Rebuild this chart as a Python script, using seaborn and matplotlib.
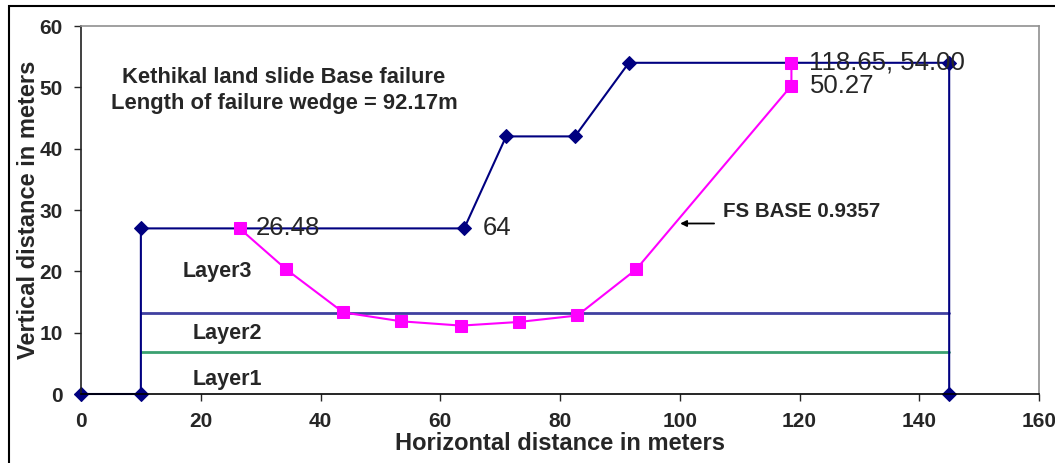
import matplotlib
matplotlib.use('Agg')
import matplotlib.pyplot as plt
import matplotlib.patches as patches
import seaborn as sns
import numpy as np

# ground profile (navy diamonds)
ground_x = [0, 10, 10, 64, 71, 82.5, 91.5, 145, 145]
ground_y = [0, 0, 27, 27, 42, 42, 54, 54, 0]

# failure surface (magenta squares)
slip_x = [26.48, 34.3, 43.8, 53.5, 63.5, 73.2, 82.9, 92.7, 118.65, 118.65]
slip_y = [27.0, 20.3, 13.3, 11.85, 11.15, 11.75, 12.8, 20.3, 50.27, 54.0]

# layer boundaries
layer_x = [10, 145]
layer3_base = [13.2, 13.2]
layer2_base = [6.8, 6.8]

layer_names = ['Layer3', 'Layer2', 'Layer1']
layer_label_x = [22.7, 24.4, 24.4]
layer_label_y = [20.0, 9.9, 2.3]

x_ticks = np.arange(0, 161, 20)
y_ticks = np.arange(0, 61, 10)

sns.set_style('white')
plt.rcParams['font.family'] = ['Liberation Sans', 'DejaVu Sans']

fig = plt.figure(figsize=(10.55, 4.63), dpi=100)
ax = fig.add_axes([81 / 1055, 1 - 394 / 463, (1039 - 81) / 1055, (394 - 26) / 463])

# layer lines
sns.lineplot(x=layer_x, y=layer3_base, color='#4040a0', linewidth=2, ax=ax,
             estimator=None, sort=False)
sns.lineplot(x=layer_x, y=layer2_base, color='#3aa070', linewidth=2, ax=ax,
             estimator=None, sort=False)

# ground profile
sns.lineplot(x=ground_x, y=ground_y, color='#000080', linewidth=1.5, marker='D',
             markersize=7, markeredgecolor='#000080', ax=ax, estimator=None, sort=False)

# slip surface
sns.lineplot(x=slip_x, y=slip_y, color='#ff00ff', linewidth=1.5, marker='s',
             markersize=8, markeredgecolor='#ff00ff', ax=ax, estimator=None, sort=False)

for ln in ax.lines:
    ln.set_clip_on(False)

# data labels
lab_kw = dict(textcoords='offset points', va='center', ha='left', fontsize=18.5)
ax.annotate('26.48', (slip_x[0], slip_y[0]), xytext=(12, 0), **lab_kw)
ax.annotate('64', (ground_x[3], ground_y[3]), xytext=(13, 0), **lab_kw)
ax.annotate('118.65, 54.00', (slip_x[-1], slip_y[-1]), xytext=(13, 0), **lab_kw)
ax.annotate('50.27', (slip_x[-2], slip_y[-2]), xytext=(13, 0), **lab_kw)

# title block
ax.text(33.9, 49.5, 'Kethikal land slide Base failure\nLength of failure wedge = 92.17m',
        ha='center', va='center', fontsize=15.8, fontweight='bold', linespacing=1.35)

for name, lx, ly in zip(layer_names, layer_label_x, layer_label_y):
    ax.text(lx, ly, name, ha='center', va='center', fontsize=15.5, fontweight='bold')

# FS annotation
ax.annotate('', xy=(99.6, 27.8), xytext=(106.2, 27.8),
            arrowprops=dict(arrowstyle='-|>', color='black', lw=1.3, mutation_scale=9))
ax.text(107.2, 29.8, 'FS BASE 0.9357', ha='left', va='center', fontsize=14.8,
        fontweight='bold')

ax.set_xlim(0, 160)
ax.set_ylim(0, 60)
ax.set_xticks(x_ticks)
ax.set_yticks(y_ticks)
ax.tick_params(axis='both', direction='out', length=5, width=1, labelsize=15,
               bottom=True, left=True)
ax.tick_params(axis='x', pad=8)
ax.tick_params(axis='y', pad=8)
for lbl in ax.get_xticklabels() + ax.get_yticklabels():
    lbl.set_fontweight('bold')

ax.set_xlabel('Horizontal distance in meters', fontsize=17, fontweight='bold', labelpad=1)
ax.set_ylabel('Vertical distance in meters', fontsize=17, fontweight='bold', labelpad=0)

ax.spines['left'].set_color('#202020')
ax.spines['bottom'].set_color('black')
ax.spines['top'].set_color('#909090')
ax.spines['right'].set_color('#909090')
for s in ax.spines.values():
    s.set_linewidth(1.2)
ax.grid(False)

# outer chart border
fig.patches.append(patches.Rectangle((9 / 1055, -0.05), 1.1, 1 - 6 / 463 + 0.05,
                                     transform=fig.transFigure, fill=False,
                                     edgecolor='black', linewidth=1.5))

fig.savefig('out.png', dpi=100)
